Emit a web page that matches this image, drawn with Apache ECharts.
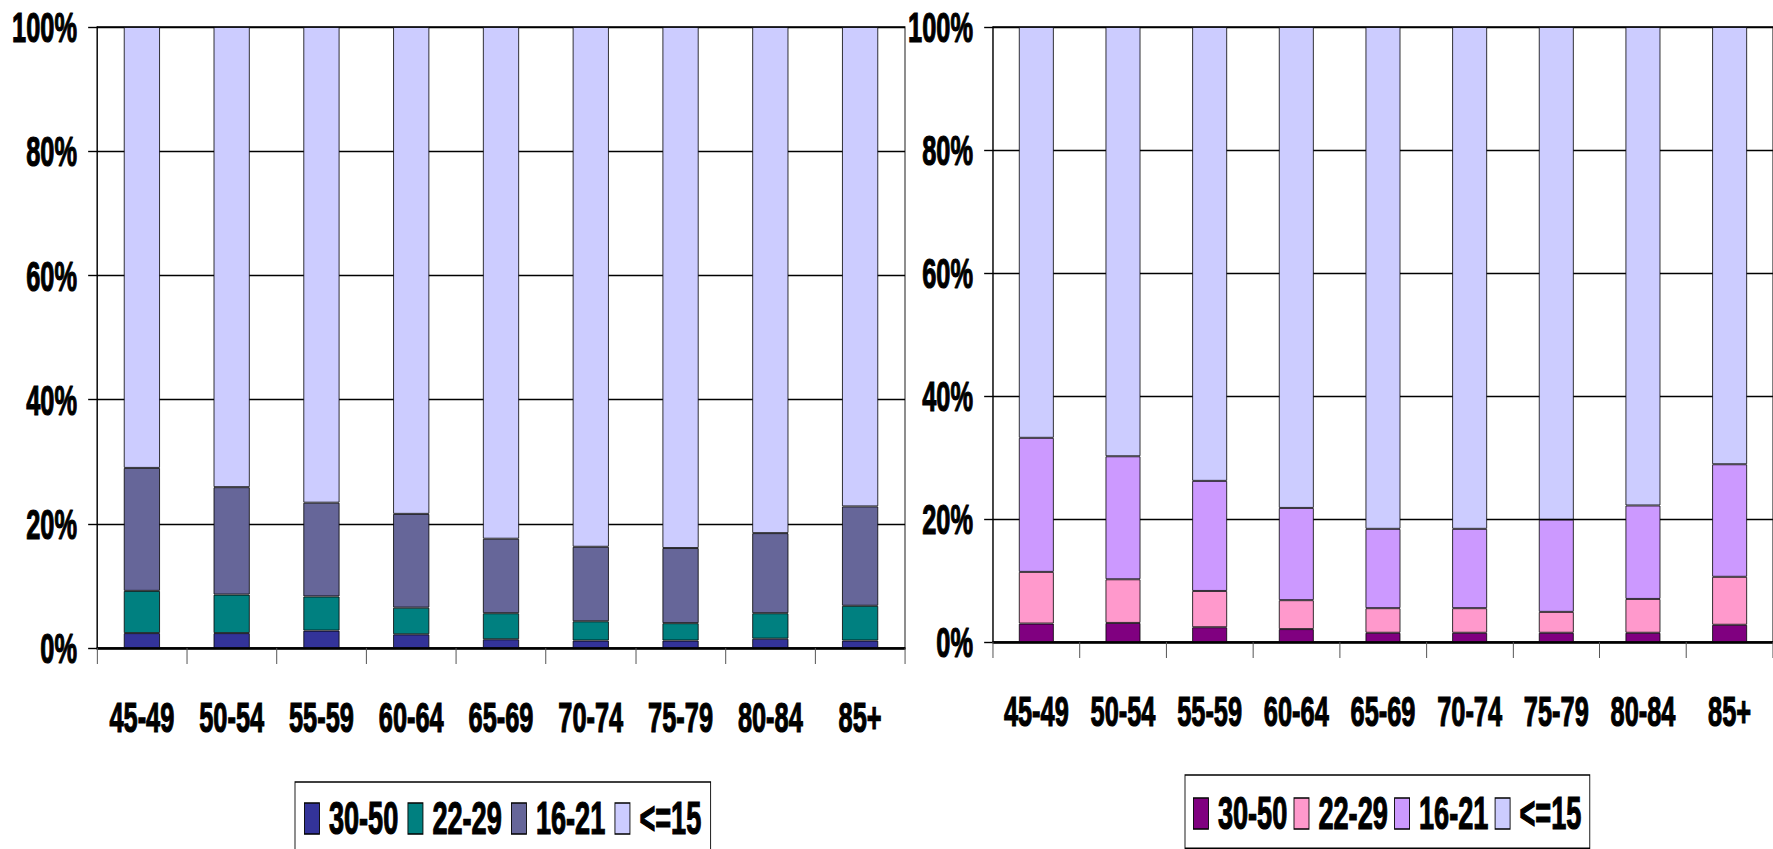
<!DOCTYPE html>
<html>
<head>
<meta charset="utf-8">
<script src="https://cdn.jsdelivr.net/npm/echarts@6/dist/echarts.min.js"></script>
<style>
  html, body { margin: 0; padding: 0; background: #fff; overflow: hidden; }
  #wrap { position: relative; width: 1773px; height: 849px; overflow: hidden; background: #fff; }
  #chart { position: absolute; left: 0; top: 0; height: 849px; transform-origin: 0 0; }
</style>
</head>
<body>
<div id="wrap"><div id="chart"></div></div>
<script>
// ---------- data ----------
const categories = ['45-49', '50-54', '55-59', '60-64', '65-69', '70-74', '75-79', '80-84', '85+'];
const groupNames = ['30-50', '22-29', '16-21', '<=15'];
const yTicks = [0, 20, 40, 60, 80, 100];

// left panel (percent of each age group)
const left_30_50 = [2.4, 2.4, 2.8, 2.2, 1.4, 1.2, 1.2, 1.5, 1.2];
const left_22_29 = [6.8, 6.2, 5.5, 4.3, 4.2, 3.1, 2.8, 4.1, 5.6];
const left_16_21 = [19.8, 17.3, 15.1, 15.1, 12.0, 12.0, 12.1, 12.9, 16.0];
const left_le15  = [71.0, 74.1, 76.6, 78.4, 82.4, 83.7, 83.9, 81.5, 77.2];

// right panel
const right_30_50 = [3.0, 3.1, 2.4, 2.1, 1.5, 1.5, 1.5, 1.5, 2.8];
const right_22_29 = [8.4, 7.1, 5.9, 4.7, 4.0, 4.0, 3.4, 5.5, 7.8];
const right_16_21 = [21.8, 20.0, 17.9, 15.0, 12.9, 12.9, 15.0, 15.2, 18.3];
const right_le15  = [66.8, 69.8, 73.8, 78.2, 81.6, 81.6, 80.1, 77.8, 71.1];

// ---------- styling ----------
const leftColors  = ['#333399', '#008080', '#666699', '#CCCCFF'];
const rightColors = ['#800080', '#FF99CC', '#CC99FF', '#CCCCFF'];

// horizontal squeeze of the whole drawing (narrow bold lettering)
const S = 0.59;
const X = v => v / S;
const el = document.getElementById('chart');
el.style.width = (1773 / S) + 'px';
el.style.transform = 'scaleX(' + S + ')';

const FONT = '"Liberation Sans", Arial, sans-serif';
const axisFont = { fontFamily: FONT, fontWeight: 'bold', fontSize: 43, color: '#000', textBorderColor: '#000', textBorderWidth: 1.2 };

function xAxisCfg(gi) {
  return {
    type: 'category', gridIndex: gi, data: categories, boundaryGap: true,
    axisLine: { show: true, lineStyle: { color: '#000', width: 2.5 } },
    axisTick: { show: true, interval: 0, length: 16, lineStyle: { color: '#555', width: 1.7 } },
    axisLabel: Object.assign({ interval: 0, margin: 47 }, axisFont),
    splitLine: { show: false }
  };
}
function yAxisCfg(gi) {
  return {
    type: 'value', gridIndex: gi, min: yTicks[0], max: yTicks[yTicks.length - 1],
    interval: yTicks[1] - yTicks[0],
    axisLine: { show: true, lineStyle: { color: '#000', width: 1.7 } },
    axisTick: { show: true, length: 15, lineStyle: { color: '#000', width: 1.4 } },
    axisLabel: Object.assign({ margin: 34, formatter: '{value}%' }, axisFont),
    splitLine: { show: true, lineStyle: { color: '#000', width: 1.4 } }
  };
}
function barSeries(name, data, color, gi, stack) {
  return {
    type: 'bar', name: name, data: data, stack: stack,
    xAxisIndex: gi, yAxisIndex: gi, barWidth: '40%',
    itemStyle: { color: color, borderColor: '#000', borderWidth: 1 },
    emphasis: { disabled: true }
  };
}
function legendCfg(colors, left, top, gap, pad) {
  return {
    show: true, orient: 'horizontal', left: left, top: top,
    icon: 'rect', itemWidth: X(15), itemHeight: 31, itemGap: gap,
    padding: pad,
    borderColor: '#000', borderWidth: 1.5, backgroundColor: '#fff',
    selectedMode: false,
    textStyle: { fontFamily: FONT, fontWeight: 'bold', fontSize: 46, color: '#000', textBorderColor: '#000', textBorderWidth: 1.2, padding: [0, 0, 0, 11] },
    data: groupNames.map((n, i) => ({
      name: n, itemStyle: { color: colors[i], borderColor: '#000', borderWidth: 1.5 }
    }))
  };
}

const leftData = [left_30_50, left_22_29, left_16_21, left_le15];
const rightData = [right_30_50, right_22_29, right_16_21, right_le15];

const series = [];
groupNames.forEach((n, i) => series.push(barSeries(n, leftData[i], leftColors[i], 0, 'L')));
groupNames.forEach((n, i) => series.push(barSeries(n, rightData[i], rightColors[i], 1, 'R')));

const option = {
  animation: false,
  backgroundColor: '#fff',
  grid: [
    { left: X(97), top: 27, width: X(808), height: 621, show: true, borderColor: '#000', borderWidth: 1.5, backgroundColor: 'transparent' },
    { left: X(993), top: 27, width: X(782), height: 615, show: true, borderColor: '#000', borderWidth: 1.5, backgroundColor: 'transparent' }
  ],
  xAxis: [xAxisCfg(0), xAxisCfg(1)],
  yAxis: [yAxisCfg(0), yAxisCfg(1)],
  legend: [
    legendCfg(leftColors, X(295), 782, 15, [13, X(9), 16, X(9)]),
    legendCfg(rightColors, X(1185), 775, 10, [15, X(8), 11, X(8)])
  ],
  series: series
};

const chart = echarts.init(el, null, { renderer: 'svg' });
chart.setOption(option);
</script>
</body>
</html>
